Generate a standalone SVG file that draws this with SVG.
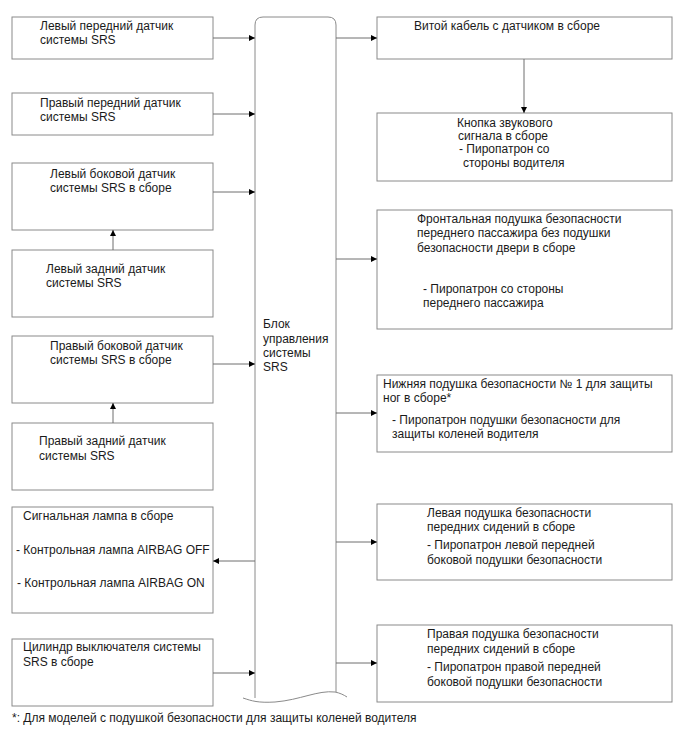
<svg xmlns="http://www.w3.org/2000/svg" width="688" height="755" viewBox="0 0 688 755">
<style>
.box{fill:#fff;stroke:#8a8a8a;stroke-width:1}
.ln{fill:none;stroke:#6e6e6e;stroke-width:1}
text{font-family:"Liberation Sans",Arial,sans-serif;font-size:12px;fill:#1a1a1a}
</style>
<defs>
<marker id="ah" viewBox="0 0 10 10" refX="10" refY="5" markerWidth="9" markerHeight="6" markerUnits="userSpaceOnUse" orient="auto">
<path d="M0,0 L10,5 L0,10 z" fill="#000"/>
</marker>
</defs>
<rect width="688" height="755" fill="#fff"/>

<g id="ecu">
<path class="box" d="M255,698 L255,25 Q255,17 263,17 L328,17 Q336,17 336,25 L336,692" />
<path class="ln" d="M243,698 C252,701 258,703 275,702 C300,700 318,690 335,692 C340,693 344,695 347,697" style="stroke:#8a8a8a"/>
<text x="263" y="328">Блок</text>
<text x="263" y="343">управления</text>
<text x="263" y="357">системы</text>
<text x="263" y="371">SRS</text>
</g>

<g id="l1"><rect class="box" x="12" y="17" width="201" height="42"/>
<text x="40" y="30">Левый передний датчик</text><text x="40" y="44">системы SRS</text></g>
<g id="l2"><rect class="box" x="12" y="93" width="201" height="42"/>
<text x="40" y="107">Правый передний датчик</text><text x="40" y="121">системы SRS</text></g>
<g id="l3"><rect class="box" x="12" y="163" width="201" height="67"/>
<text x="50" y="178">Левый боковой датчик</text><text x="50" y="192">системы SRS в сборе</text></g>
<g id="l4"><rect class="box" x="12" y="250" width="201" height="67"/>
<text x="46" y="273">Левый задний датчик</text><text x="46" y="287">системы SRS</text></g>
<g id="l5"><rect class="box" x="12" y="336" width="201" height="67"/>
<text x="50" y="350">Правый боковой датчик</text><text x="50" y="364">системы SRS в сборе</text></g>
<g id="l6"><rect class="box" x="12" y="423" width="201" height="67"/>
<text x="39" y="445">Правый задний датчик</text><text x="39" y="460">системы SRS</text></g>
<g id="l7"><rect class="box" x="12" y="507" width="201" height="106"/>
<text x="23" y="520">Сигнальная лампа в сборе</text>
<text x="16" y="554">- Контрольная лампа AIRBAG OFF</text>
<text x="17" y="587">- Контрольная лампа AIRBAG ON</text></g>
<g id="l8"><rect class="box" x="12" y="639" width="201" height="67"/>
<text x="23" y="651">Цилиндр выключателя системы</text><text x="23" y="666">SRS в сборе</text></g>

<g id="r1"><rect class="box" x="377" y="17" width="295" height="42"/>
<text x="414" y="30">Витой кабель с датчиком в сборе</text></g>
<g id="r2"><rect class="box" x="377" y="113" width="295" height="68"/>
<text x="457" y="127">Кнопка звукового</text>
<text x="458" y="140">сигнала в сборе</text>
<text x="459" y="153">- Пиропатрон со</text>
<text x="463" y="167">стороны водителя</text></g>
<g id="r3"><rect class="box" x="377" y="210" width="295" height="119"/>
<text x="417" y="223">Фронтальная подушка безопасности</text>
<text x="417" y="237">переднего пассажира без подушки</text>
<text x="417" y="252">безопасности двери в сборе</text>
<text x="423" y="293">- Пиропатрон со стороны</text>
<text x="423" y="307">переднего пассажира</text></g>
<g id="r4"><rect class="box" x="377" y="375" width="295" height="77"/>
<text x="383" y="388">Нижняя подушка безопасности № 1 для защиты</text>
<text x="383" y="402">ног в сборе*</text>
<text x="392" y="424">- Пиропатрон подушки безопасности для</text>
<text x="392" y="438">защиты коленей водителя</text></g>
<g id="r5"><rect class="box" x="377" y="504" width="295" height="76"/>
<text x="427" y="517">Левая подушка безопасности</text>
<text x="427" y="531">передних сидений в сборе</text>
<text x="427" y="549">- Пиропатрон левой передней</text>
<text x="427" y="564">боковой подушки безопасности</text></g>
<g id="r6"><rect class="box" x="377" y="625" width="295" height="77"/>
<text x="427" y="638">Правая подушка безопасности</text>
<text x="427" y="653">передних сидений в сборе</text>
<text x="427" y="671">- Пиропатрон правой передней</text>
<text x="427" y="686">боковой подушки безопасности</text></g>

<g id="connectors">
<line class="ln" x1="213" y1="38" x2="255" y2="38" marker-end="url(#ah)"/>
<line class="ln" x1="213" y1="114" x2="255" y2="114" marker-end="url(#ah)"/>
<line class="ln" x1="213" y1="192" x2="255" y2="192" marker-end="url(#ah)"/>
<line class="ln" x1="213" y1="364" x2="255" y2="364" marker-end="url(#ah)"/>
<line class="ln" x1="213" y1="673" x2="255" y2="673" marker-end="url(#ah)"/>
<line class="ln" x1="255" y1="561" x2="213" y2="561" marker-end="url(#ah)"/>
<line class="ln" x1="113" y1="250" x2="113" y2="230" marker-end="url(#ah)"/>
<line class="ln" x1="113" y1="423" x2="113" y2="403" marker-end="url(#ah)"/>
<line class="ln" x1="336" y1="38" x2="377" y2="38" marker-end="url(#ah)"/>
<line class="ln" x1="524" y1="59" x2="524" y2="113" marker-end="url(#ah)"/>
<line class="ln" x1="336" y1="259" x2="377" y2="259" marker-end="url(#ah)"/>
<line class="ln" x1="336" y1="413" x2="377" y2="413" marker-end="url(#ah)"/>
<line class="ln" x1="336" y1="542" x2="377" y2="542" marker-end="url(#ah)"/>
<line class="ln" x1="336" y1="663" x2="377" y2="663" marker-end="url(#ah)"/>
</g>

<text x="12" y="722">*: Для моделей с подушкой безопасности для защиты коленей водителя</text>
</svg>
